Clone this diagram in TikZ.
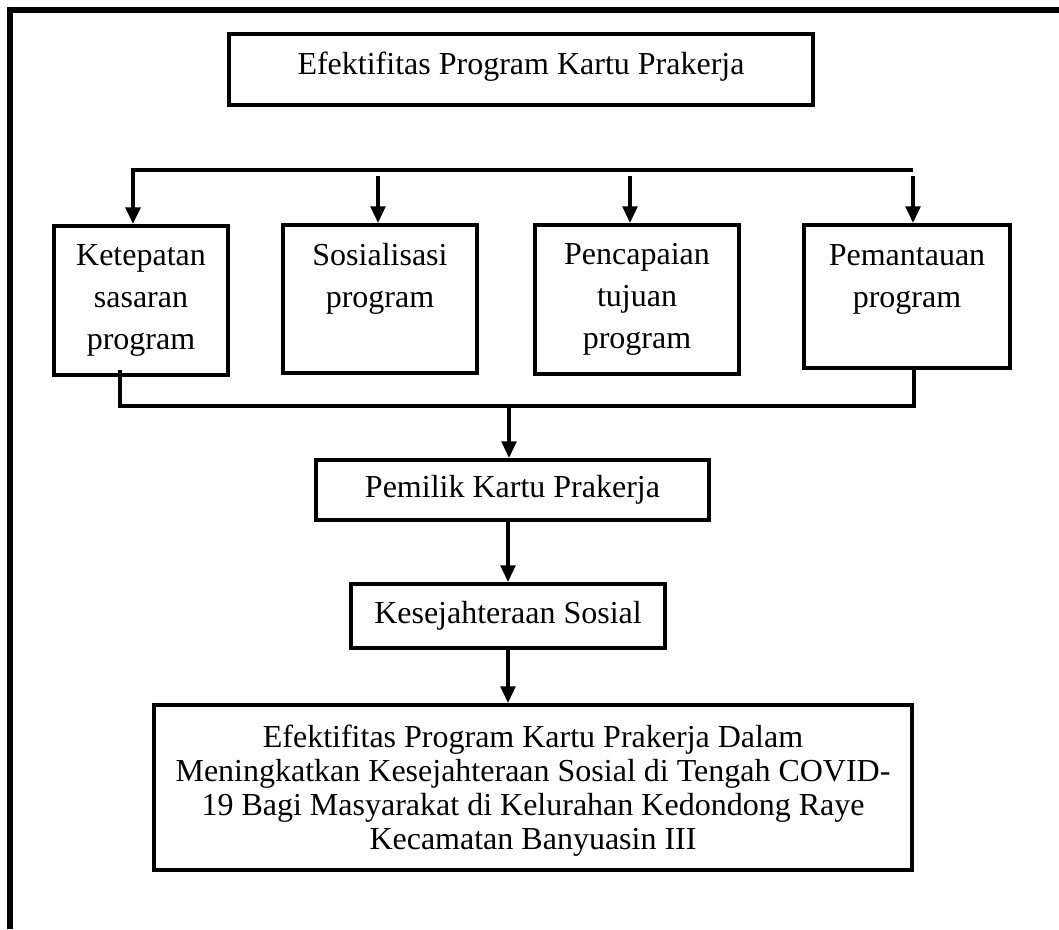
\documentclass[tikz,border=0pt]{standalone}
\usepackage{fontspec}
\setmainfont{Liberation Serif}
\usetikzlibrary{arrows.meta}

\tikzset{
  kotak/.style={draw, line width=3pt, rectangle, inner sep=0pt, align=center},
  teks/.style={inner sep=0pt, align=center, font=\fontsize{24pt}{31.5pt}\selectfont},
  garis/.style={line width=3pt},
  panah/.style={line width=2.6pt, -{Triangle[length=12.5pt,width=11pt]}},
}

\begin{document}
\begin{tikzpicture}[x=0.75pt,y=0.75pt,yscale=-1,xscale=1]
\useasboundingbox (0,0) rectangle (1059,929);

%Frame
\draw [line width=4.5pt] (10,929) -- (10,10) -- (1059,10) ;

%Shape: Rectangle
\node [kotak, minimum width=438pt, minimum height=53.25pt] (judul) at (521,69.5) {};
% Text Node
\node [teks, anchor=base] (tjudul) at (521,74) {Efektifitas Program Kartu Prakerja};

%Shape: Rectangle
\node [kotak, minimum width=130.5pt, minimum height=111.75pt] (ketepatan) at (141,300.5) {};
\node [kotak, minimum width=145.5pt, minimum height=111pt] (sosialisasi) at (380,299) {};
\node [kotak, minimum width=153pt, minimum height=111.75pt] (pencapaian) at (637,299.5) {};
\node [kotak, minimum width=154.5pt, minimum height=107.25pt] (pemantauan) at (907,296.5) {};

% Text Node
\node [teks, anchor=north] (tketepatan) at (141,244) {Ketepatan\\sasaran\\program};
% Text Node
\node [teks, anchor=north] (tsosialisasi) at (380,243) {Sosialisasi\\program};
% Text Node
\node [teks, anchor=north] (tpencapaian) at (637,243) {Pencapaian\\tujuan\\program};
% Text Node
\node [teks, anchor=north] (tpemantauan) at (907,244) {Pemantauan\\program};

%Shape: Rectangle
\node [kotak, teks, minimum width=294.75pt, minimum height=45pt] (pemilik) at (512.5,490) {Pemilik Kartu Prakerja};
\node [kotak, teks, minimum width=235.5pt, minimum height=48pt] (kesejahteraan) at (508,616) {Kesejahteraan Sosial};
\node [kotak, minimum width=568.5pt, minimum height=123.75pt] (kesimpulan) at (533,787.5) {};
% Text Node
\node [teks, font=\fontsize{24pt}{25.5pt}\selectfont] (tkesimpulan) at (533,790.5)
  {Efektifitas Program Kartu Prakerja Dalam\\Meningkatkan Kesejahteraan Sosial di Tengah COVID-\\19 Bagi Masyarakat di Kelurahan Kedondong Raye\\Kecamatan Banyuasin III};

%Straight Lines
\coordinate (cabangkiri) at (133,170);
\coordinate (cabangkanan) at (913,170);
\draw [panah, line width=3pt] (cabangkanan) -- (cabangkiri) -- (cabangkiri |- ketepatan.north) ;
\coordinate (p2) at (378,176);
\draw [panah] (p2) -- (p2 |- sosialisasi.north) ;
\coordinate (p3) at (630,176);
\draw [panah] (p3) -- (p3 |- pencapaian.north) ;
\coordinate (p4) at (913,176);
\draw [panah] (p4) -- (p4 |- pemantauan.north) ;

%Straight Lines
\coordinate (ujungkiri) at (120,370);
\coordinate (gabung) at (509,406);
\coordinate (ujungkanan) at (914,406);
\draw [garis, line width=3.5pt] (ujungkiri) |- (ujungkanan) -- (ujungkanan |- pemantauan.south) ;
\draw [panah] (gabung) -- (gabung |- pemilik.north) ;
\draw [panah] (kesejahteraan.north |- pemilik.south) -- (kesejahteraan.north) ;
\draw [panah] (kesejahteraan.south) -- (kesejahteraan.south |- kesimpulan.north) ;

\end{tikzpicture}
\end{document}
